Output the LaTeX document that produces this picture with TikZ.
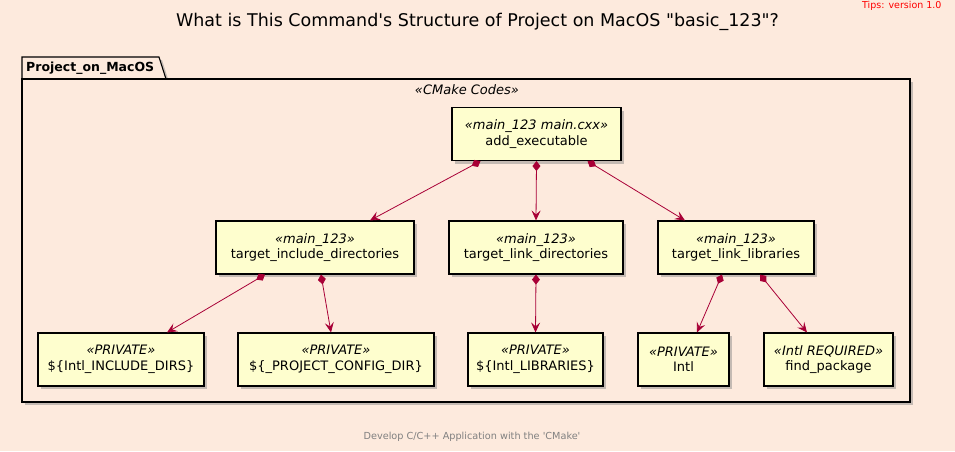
\documentclass[tikz,border=0pt]{standalone}
\usepackage{fontspec}
\setmainfont{DejaVu Sans}
\definecolor{uml_bg}{RGB}{253,234,221}
\definecolor{uml_box}{RGB}{254,254,206}
\definecolor{uml_red}{RGB}{168,0,54}
\usetikzlibrary{arrows.meta, calc, shadows}

\begin{document}
\begin{tikzpicture}[x=1pt, y=-1pt, font=\fontsize{13}{15.5}\selectfont,
    cmd/.style={draw, line width=1.1pt, fill=uml_box, align=center, minimum height=53pt,
                inner sep=2pt,
                drop shadow={shadow xshift=3pt, shadow yshift=-3pt, opacity=0.45}},
    dep/.style={uml_red, line width=0.8pt,
                {Diamond[length=10pt, width=8pt]}-{Stealth[length=10pt, width=9pt, inset=4pt]}}]
  \useasboundingbox (0,0) rectangle (955,451);
  \fill[uml_bg] (0,0) rectangle (955,451);
  % title and notes
  \node[font=\fontsize{17.5}{20}\selectfont] (title) at (477.5,22)
    {What is This Command\textquotesingle s Structure of Project on MacOS \textquotedbl basic\_123\textquotedbl ?};
  \node[text=red, font=\fontsize{9.5}{11}\selectfont, anchor=east] (tips) at (945,6)
    {Tips: version 1.0};
  \node[text=gray, font=\fontsize{9.7}{11}\selectfont] (foot) at (472,437)
    {Develop C/C++ Application with the \textquotesingle CMake\textquotesingle};
  % package
  \draw[line width=1.1pt, fill=uml_bg, drop shadow={shadow xshift=3pt, shadow yshift=-3pt, opacity=0.45}]
    (22,79) -- (22,57) -- (159,57) -- (166,79) -- cycle;
  \draw[line width=1.1pt, fill=uml_bg, drop shadow={shadow xshift=3pt, shadow yshift=-3pt, opacity=0.45}]
    (22,79) rectangle (910,402);
  \node[font=\fontsize{12.5}{15}\selectfont\bfseries, anchor=west, inner sep=0pt] (pkg) at (26,68)
    {Project\_on\_MacOS};
  \node[font=\fontsize{13}{15}\selectfont\itshape] (codes) at (467,90) {«CMake Codes»};
  % commands
  \node[cmd, minimum width=169pt] (add) at (536.5,134)
    {{\itshape «main\_123 main.cxx»}\\add\_executable};
  \node[cmd, minimum width=198pt] (tid) at (315,247.5)
    {{\itshape «main\_123»}\\target\_include\_directories};
  \node[cmd, minimum width=174pt] (tld) at (536,247.5)
    {{\itshape «main\_123»}\\target\_link\_directories};
  \node[cmd, minimum width=156pt] (tll) at (736,247.5)
    {{\itshape «main\_123»}\\target\_link\_libraries};
  \node[cmd, minimum width=166pt] (incdirs) at (121,359.5)
    {{\itshape «PRIVATE»}\\\$\{Intl\_INCLUDE\_DIRS\}};
  \node[cmd, minimum width=196pt] (cfgdir) at (336,359.5)
    {{\itshape «PRIVATE»}\\\$\{\_PROJECT\_CONFIG\_DIR\}};
  \node[cmd, minimum width=135pt] (libs) at (535.5,359.5)
    {{\itshape «PRIVATE»}\\\$\{Intl\_LIBRARIES\}};
  \node[cmd, minimum width=91pt] (intl) at (683.5,359.5)
    {{\itshape «PRIVATE»}\\Intl};
  \node[cmd, minimum width=129pt] (findpkg) at (828.5,359.5)
    {{\itshape «Intl REQUIRED»}\\find\_package};
  % dependencies
  \draw[dep] ($(add.south)+(-56,0)$) -- ($(tid.north)+(55,0)$);
  \draw[dep] (add.south) -- (tld.north);
  \draw[dep] ($(add.south)+(51,0)$) -- ($(tll.north)+(-51,0)$);
  \draw[dep] ($(tid.south)+(-50,0)$) -- ($(incdirs.north)+(46,0)$);
  \draw[dep] ($(tid.south)+(6,0)$) -- ($(cfgdir.north)+(-5,0)$);
  \draw[dep] (tld.south) -- (libs.north);
  \draw[dep] ($(tll.south)+(-14,0)$) -- ($(intl.north)+(13.5,0)$);
  \draw[dep] ($(tll.south)+(24,0)$) -- ($(findpkg.north)+(-21.5,0)$);
\end{tikzpicture}
\end{document}
